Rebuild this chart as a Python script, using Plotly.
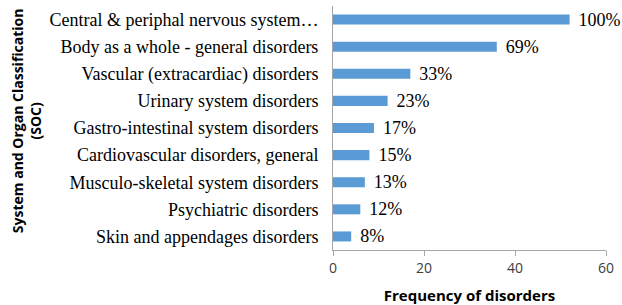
import plotly.graph_objects as go

categories = [
    "Central & periphal nervous system…",
    "Body as a whole - general disorders",
    "Vascular (extracardiac) disorders",
    "Urinary system disorders",
    "Gastro-intestinal system disorders",
    "Cardiovascular disorders, general",
    "Musculo-skeletal system disorders",
    "Psychiatric disorders",
    "Skin and appendages disorders",
]
frequency = [52, 36, 17, 12, 9, 8, 7, 6, 4]
pct_labels = ["100%", "69%", "33%", "23%", "17%", "15%", "13%", "12%", "8%"]
x_ticks = [0, 20, 40, 60]

fig = go.Figure(go.Bar(
    x=frequency, y=categories, orientation="h",
    marker=dict(color="#5B9BD5", line=dict(width=0)),
    text=pct_labels, texttemplate="\u2004%{text}",
    textposition="outside", cliponaxis=False,
    constraintext="none", hoverinfo="skip",
    textfont=dict(family="Liberation Serif", size=18, color="#000000"),
))

fig.update_layout(
    width=622, height=305,
    margin=dict(l=333, r=16, t=6, b=55, autoexpand=False),
    paper_bgcolor="white", plot_bgcolor="white",
    bargap=0.63, showlegend=False,
    xaxis=dict(range=[0, 60], tickvals=x_ticks, showgrid=False, zeroline=False,
               automargin=False,
               showline=True, linecolor="#A6A6A6", linewidth=1,
               ticks="outside", ticklen=5, tickcolor="#A6A6A6",
               tickfont=dict(family="Open Sans", size=14, color="#404040"),
               title=dict(text="<b>Frequency of disorders</b>", standoff=14,
                          font=dict(family="Open Sans", size=15, color="#000000"))),
    yaxis=dict(categoryorder="array", categoryarray=categories[::-1],
               automargin=False,
               showgrid=False, zeroline=False, showline=True,
               linecolor="#A6A6A6", linewidth=1, ticks="",
               ticklabelstandoff=10,
               tickfont=dict(family="Liberation Serif", size=18, color="#000000")),
)

fig.add_annotation(
    text="<b>System and Organ Classification<br>(SOC)</b>",
    xref="paper", yref="paper", x=-327/273, y=0.53,
    xanchor="left", yanchor="middle", textangle=-90, showarrow=False,
    font=dict(family="Open Sans", size=14, color="#000000"),
)

fig.write_html("out.html", config={"displayModeBar": False},
               post_script="document.body.style.margin='0';")
